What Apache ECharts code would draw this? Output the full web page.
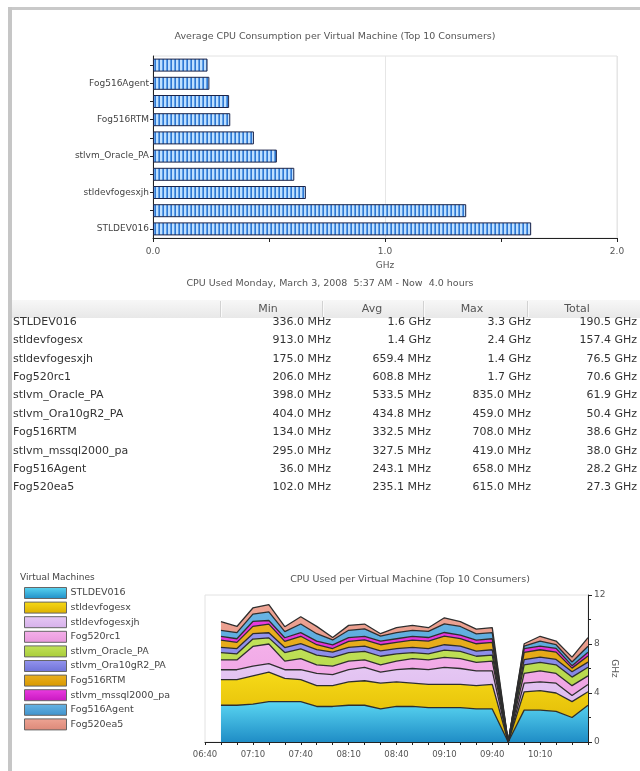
<!DOCTYPE html>
<html>
<head>
<meta charset="utf-8">
<script src="https://cdn.jsdelivr.net/npm/echarts@6/dist/echarts.min.js"></script>
<style>
html, body { margin: 0; padding: 0; background: #fff; }
#main { width: 640px; height: 771px; }
</style>
</head>
<body>
<div id="main"></div>
<script>
// top chart: average cpu per vm (bottom -> top)
const barNames = ['STLDEV016', 'stldevfogesx', 'stldevfogesxjh', 'Fog520rc1', 'stlvm_Oracle_PA',
    'stlvm_Ora10gR2_PA', 'Fog516RTM', 'stlvm_mssql2000_pa', 'Fog516Agent', 'Fog520ea5'];
const barAvg = [1.63, 1.35, 0.659, 0.609, 0.534, 0.435, 0.333, 0.328, 0.243, 0.235];

// table
const tableHead = ['Min', 'Avg', 'Max', 'Total'];
const vmNames = ['STLDEV016', 'stldevfogesx', 'stldevfogesxjh', 'Fog520rc1', 'stlvm_Oracle_PA',
    'stlvm_Ora10gR2_PA', 'Fog516RTM', 'stlvm_mssql2000_pa', 'Fog516Agent', 'Fog520ea5'];
const minCol = ['336.0 MHz', '913.0 MHz', '175.0 MHz', '206.0 MHz', '398.0 MHz', '404.0 MHz', '134.0 MHz', '295.0 MHz', '36.0 MHz', '102.0 MHz'];
const avgCol = ['1.6 GHz', '1.4 GHz', '659.4 MHz', '608.8 MHz', '533.5 MHz', '434.8 MHz', '332.5 MHz', '327.5 MHz', '243.1 MHz', '235.1 MHz'];
const maxCol = ['3.3 GHz', '2.4 GHz', '1.4 GHz', '1.7 GHz', '835.0 MHz', '459.0 MHz', '708.0 MHz', '419.0 MHz', '658.0 MHz', '615.0 MHz'];
const totalCol = ['190.5 GHz', '157.4 GHz', '76.5 GHz', '70.6 GHz', '61.9 GHz', '50.4 GHz', '38.6 GHz', '38.0 GHz', '28.2 GHz', '27.3 GHz'];

// bottom chart: cpu used over time, GHz, stacked. axis starts at 06:40, samples from 06:50
const axisStart = '06:40';
const times = ['06:50', '07:00', '07:10', '07:20', '07:30', '07:40', '07:50', '08:00', '08:10', '08:20', '08:30', '08:40',
    '08:50', '09:00', '09:10', '09:20', '09:30', '09:40', '09:50', '10:00', '10:10', '10:20', '10:30', '10:40'];
const cpuSTLDEV016 = [3.0, 3.0, 3.1, 3.3, 3.3, 3.3, 2.9, 2.9, 3.0, 3.0, 2.7, 2.9, 2.9, 2.8, 2.8, 2.8, 2.7, 2.7, 0, 2.6, 2.6, 2.5, 2.0, 3.0];
const cpuFogesx = [2.1, 2.1, 2.3, 2.4, 1.9, 1.8, 1.7, 1.7, 1.9, 2.0, 2.1, 2.0, 1.9, 1.9, 1.9, 1.9, 1.9, 2.0, 0, 1.5, 1.6, 1.5, 1.3, 1.1];
const cpuFogesxjh = [0.8, 0.8, 0.8, 0.7, 0.7, 0.8, 1.0, 0.9, 1.0, 1.1, 0.9, 1.0, 1.2, 1.2, 1.4, 1.3, 1.2, 1.1, 0, 0.7, 0.7, 0.8, 0.5, 0.6];
const cpuFog520rc1 = [0.8, 0.8, 1.6, 1.6, 0.7, 0.9, 0.7, 0.7, 0.7, 0.6, 0.6, 0.7, 0.8, 0.8, 0.8, 0.8, 0.7, 0.8, 0, 0.8, 0.9, 0.8, 0.8, 0.7];
const cpuOraclePA = [0.6, 0.5, 0.6, 0.5, 0.7, 0.8, 0.8, 0.7, 0.7, 0.7, 0.7, 0.6, 0.5, 0.5, 0.6, 0.6, 0.5, 0.5, 0, 0.7, 0.7, 0.7, 0.7, 0.7];
const cpuOra10gR2 = [0.42, 0.43, 0.44, 0.42, 0.41, 0.43, 0.44, 0.43, 0.42, 0.43, 0.44, 0.43, 0.42, 0.43, 0.44, 0.43, 0.42, 0.43, 0, 0.42, 0.43, 0.44, 0.43, 0.42];
const cpuFog516RTM = [0.6, 0.5, 0.6, 0.7, 0.5, 0.6, 0.4, 0.3, 0.5, 0.5, 0.5, 0.5, 0.6, 0.6, 0.7, 0.6, 0.6, 0.6, 0, 0.6, 0.6, 0.6, 0.3, 0.5];
const cpuMssql = [0.3, 0.3, 0.4, 0.3, 0.3, 0.3, 0.3, 0.3, 0.3, 0.3, 0.3, 0.3, 0.3, 0.3, 0.3, 0.3, 0.3, 0.3, 0, 0.3, 0.3, 0.3, 0.2, 0.3];
const cpuFog516Agent = [0.5, 0.5, 0.6, 0.7, 0.5, 0.7, 0.6, 0.4, 0.6, 0.6, 0.4, 0.5, 0.5, 0.5, 0.7, 0.7, 0.5, 0.5, 0, 0.2, 0.4, 0.3, 0.3, 0.5];
const cpuFog520ea5 = [0.7, 0.5, 0.5, 0.6, 0.4, 0.6, 0.6, 0.2, 0.4, 0.4, 0.2, 0.4, 0.4, 0.3, 0.5, 0.4, 0.4, 0.4, 0, 0.2, 0.4, 0.3, 0.4, 0.7];

const areaNames = ['STLDEV016', 'stldevfogesx', 'stldevfogesxjh', 'Fog520rc1', 'stlvm_Oracle_PA',
    'stlvm_Ora10gR2_PA', 'Fog516RTM', 'stlvm_mssql2000_pa', 'Fog516Agent', 'Fog520ea5'];
const areaData = [cpuSTLDEV016, cpuFogesx, cpuFogesxjh, cpuFog520rc1, cpuOraclePA,
    cpuOra10gR2, cpuFog516RTM, cpuMssql, cpuFog516Agent, cpuFog520ea5];

function grad(top, bottom) {
    return new echarts.graphic.LinearGradient(0, 0, 0, 1, [
        { offset: 0, color: top }, { offset: 1, color: bottom }
    ]);
}
const areaColors = [
    grad('#5ad6f2', '#1f8dc6'),
    grad('#f6da18', '#dcb000'),
    grad('#e6c8f4', '#d6b0ea'),
    grad('#f4b0ea', '#e898dc'),
    grad('#c2e25a', '#a8cc38'),
    grad('#9494ee', '#6e72d8'),
    grad('#eab020', '#d89800'),
    grad('#ea3ce0', '#c818c0'),
    grad('#68b4e4', '#3e92cc'),
    grad('#eea494', '#dc8878')
];

// striped fill for the bars
const stripe = document.createElement('canvas');
stripe.width = 4; stripe.height = 4;
const sctx = stripe.getContext('2d');
sctx.fillStyle = '#bfe0ff'; sctx.fillRect(0, 0, 4, 4);
sctx.fillStyle = '#5e9fe6'; sctx.fillRect(2, 0, 1, 4);
sctx.fillStyle = '#2f77d2'; sctx.fillRect(3, 0, 1, 4);

const labelFont = 'DejaVu Sans';
const tableFont = '11px "DejaVu Sans"';

// table as graphic elements
const colRight = [331, 431, 531, 637];
const headCenter = [268, 372, 472, 577];
const seps = [220, 322, 423, 527];
const rowY0 = 322, rowStep = 18.4;
let graphics = [
    { type: 'rect', shape: { x: 8, y: 7, width: 632, height: 3 }, style: { fill: '#c9c9c9' } },
    { type: 'rect', shape: { x: 8, y: 7, width: 4, height: 764 }, style: { fill: '#c6c6c6' } },
    { type: 'text', x: 330, y: 284, style: { text: 'CPU Used Monday, March 3, 2008  5:37 AM - Now  4.0 hours', align: 'center', verticalAlign: 'middle', font: '9.5px "DejaVu Sans"', fill: '#555' } },
    { type: 'rect', shape: { x: 12, y: 300, width: 628, height: 18 }, style: { fill: grad('#f7f7f7', '#e8e8e8') } },
    { type: 'text', x: 20, y: 578, style: { text: 'Virtual Machines', align: 'left', verticalAlign: 'middle', font: '9px "DejaVu Sans"', fill: '#444' } }
];
seps.forEach((x) => {
    graphics.push({ type: 'rect', shape: { x: x, y: 301, width: 1, height: 16 }, style: { fill: '#d2d2d2' } });
    graphics.push({ type: 'rect', shape: { x: x + 1, y: 301, width: 1, height: 16 }, style: { fill: '#fafafa' } });
});
tableHead.forEach((h, i) => {
    graphics.push({ type: 'text', x: headCenter[i], y: 309, style: { text: h, align: 'center', verticalAlign: 'middle', font: tableFont, fill: '#555' } });
});
vmNames.forEach((n, r) => {
    const y = rowY0 + r * rowStep;
    graphics.push({ type: 'text', x: 13, y: y, style: { text: n, align: 'left', verticalAlign: 'middle', font: tableFont, fill: '#333' } });
    [minCol, avgCol, maxCol, totalCol].forEach((col, c) => {
        graphics.push({ type: 'text', x: colRight[c], y: y, style: { text: col[r], align: 'right', verticalAlign: 'middle', font: tableFont, fill: '#333' } });
    });
});

const chart = echarts.init(document.getElementById('main'));
chart.setOption({
    backgroundColor: '#fff',
    animation: false,
    title: [{
        text: 'Average CPU Consumption per Virtual Machine (Top 10 Consumers)',
        left: 330, top: 27, textAlign: 'center',
        textStyle: { fontFamily: labelFont, fontSize: 9.5, fontWeight: 'normal', color: '#555' }
    }, {
        text: 'CPU Used per Virtual Machine (Top 10 Consumers)',
        left: 405, top: 570, textAlign: 'center',
        textStyle: { fontFamily: labelFont, fontSize: 9.5, fontWeight: 'normal', color: '#555' }
    }],
    legend: {
        data: areaNames,
        orient: 'vertical',
        left: 19, top: 582,
        icon: 'rect',
        itemWidth: 42, itemHeight: 11, itemGap: 2.6,
        selectedMode: false,
        itemStyle: { borderColor: '#666', borderWidth: 1 },
        textStyle: { fontFamily: labelFont, fontSize: 9.5, color: '#444', padding: [0, 0, 0, -1] }
    },
    grid: [
        { left: 153, right: 23, top: 56, bottom: 533, show: true, borderColor: '#e2e2e2', backgroundColor: '#fff' },
        { left: 205, right: 52, top: 595, bottom: 29, show: true, borderColor: '#e2e2e2', backgroundColor: '#fff' }
    ],
    xAxis: [{
        gridIndex: 0, type: 'value', min: 0, max: 2, interval: 1,
        name: 'GHz', nameLocation: 'middle', nameGap: 23,
        nameTextStyle: { fontFamily: labelFont, fontSize: 9, color: '#555' },
        axisLine: { show: true, lineStyle: { color: '#222' } },
        axisTick: { show: true, length: 4, lineStyle: { color: '#222' } },
        minorTick: { show: true, splitNumber: 2, length: 4, lineStyle: { color: '#222' } },
        axisLabel: { fontFamily: labelFont, fontSize: 9, color: '#555', margin: 9, formatter: (v) => v.toFixed(1) },
        splitLine: { show: true, lineStyle: { color: '#e6e6e6' } }
    }, {
        gridIndex: 1, type: 'category', boundaryGap: false,
        data: [axisStart].concat(times),
        axisLine: { show: true, lineStyle: { color: '#222' } },
        axisTick: { show: true, length: 3, interval: 0, lineStyle: { color: '#222' } },
        axisLabel: {
            fontFamily: labelFont, fontSize: 8.5, color: '#555', margin: 8,
            interval: (idx) => idx % 3 === 0 && idx < times.length
        },
        splitLine: { show: false }
    }],
    yAxis: [{
        gridIndex: 0, type: 'category', data: barNames,
        axisLine: { show: true, lineStyle: { color: '#222' } },
        axisTick: { show: true, length: 3, interval: 0, alignWithLabel: true, lineStyle: { color: '#222' } },
        axisLabel: { interval: 1, fontFamily: labelFont, fontSize: 9, color: '#444', margin: 4 },
        splitLine: { show: false }
    }, {
        gridIndex: 1, type: 'value', min: 0, max: 12, interval: 4, position: 'right',
        name: 'GHz', nameLocation: 'middle', nameGap: 22, nameRotate: -90, nameMoveOverlap: false,
        nameTextStyle: { fontFamily: labelFont, fontSize: 9, color: '#555' },
        axisLine: { show: true, lineStyle: { color: '#222' } },
        axisTick: { show: true, length: 4, lineStyle: { color: '#222' } },
        minorTick: { show: true, splitNumber: 2, length: 3, lineStyle: { color: '#222' } },
        axisLabel: { fontFamily: labelFont, fontSize: 9, color: '#555', margin: 6 },
        splitLine: { show: false }
    }],
    graphic: graphics,
    series: [{
        type: 'bar', xAxisIndex: 0, yAxisIndex: 0,
        data: barAvg,
        barWidth: 13,
        itemStyle: { color: { image: stripe, repeat: 'repeat' }, borderColor: '#1c2448', borderWidth: 1 }
    }].concat(areaNames.map((name, i) => ({
        name: name, type: 'line', xAxisIndex: 1, yAxisIndex: 1,
        stack: 'cpu', symbol: 'none',
        data: [null].concat(areaData[i]),
        lineStyle: { color: '#2e2e2e', width: 1.3 },
        itemStyle: { color: areaColors[i] },
        areaStyle: { color: areaColors[i], opacity: 1 },
        z: 2
    })))
});
</script>
</body>
</html>
